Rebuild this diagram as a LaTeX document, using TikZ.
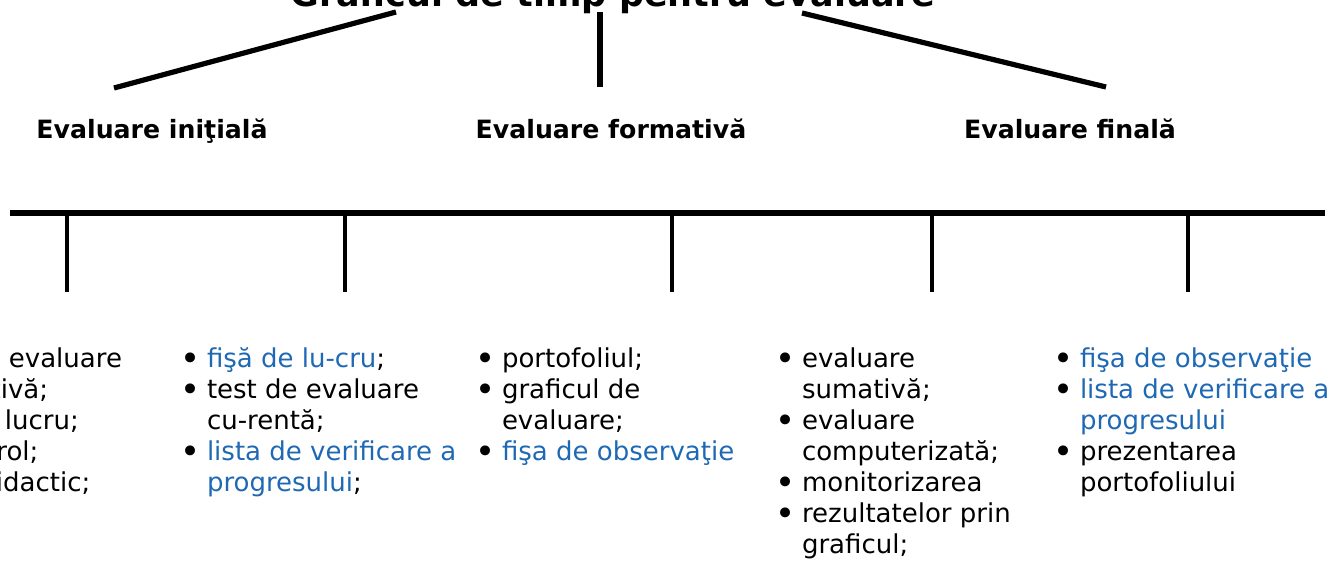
\documentclass[tikz,border=0pt]{standalone}
\usepackage{fontspec}
\setmainfont{DejaVu Sans}
\usepackage{xcolor}
\usetikzlibrary{positioning}
\definecolor{linkblue}{HTML}{1F69B4}
\newcommand{\Blu}[1]{\textcolor{linkblue}{#1}}
\newcommand{\itm}{\makebox[12.3pt][l]{\hspace*{-0.8pt}\raisebox{-1.6pt}{\fontsize{17pt}{15.5pt}\selectfont •}}}
\newcommand{\cnt}{\hspace*{12.3pt}}
\tikzset{
  titletext/.style={font=\bfseries\fontsize{17.5pt}{21pt}\selectfont,anchor=base,inner sep=0pt},
  heading/.style={font=\bfseries\fontsize{12.6pt}{15pt}\selectfont,anchor=base,inner sep=0pt},
  itemlist/.style={font=\fontsize{13pt}{15.5pt}\selectfont,anchor=base west,inner sep=0pt},
  branch/.style={line width=2.6pt},
  tickline/.style={line width=1.8pt}
}

\begin{document}
\begin{tikzpicture}[x=0.5pt,y=-0.5pt]
\path[use as bounding box,clip] (0,0) rectangle (1331,561);
% \draw[help lines] (0,0) grid (1331,561);
\node (title) [titletext] at (613,7) {Graficul de timp pentru evaluare};
%
\coordinate (b1-top) at (396,12);
\coordinate (b1-bot) at (114,88);
\coordinate (b2-top) at (600,12);
\coordinate (b2-bot) at (600,87);
\coordinate (b3-top) at (802,13);
\coordinate (b3-bot) at (1106,87);
\draw[branch] (b1-top) -- (b1-bot);
\draw[branch] (b2-top) -- (b2-bot);
\draw[branch] (b3-top) -- (b3-bot);
%
\node (initiala) [heading] at (152,139) {Evaluare iniţială};
\node (formativa) [heading] at (611,139) {Evaluare formativă};
\node (finala) [heading] at (1070,139) {Evaluare finală};
%
\coordinate (line-w) at (10,213);
\coordinate (line-e) at (1325,213);
\draw[line width=3pt] (line-w) -- (line-e);
%
\coordinate (k1-top) at (67,213);   \coordinate (k1-bot) at (67,292);
\coordinate (k2-top) at (345,213);  \coordinate (k2-bot) at (345,292);
\coordinate (k3-top) at (672,213);  \coordinate (k3-bot) at (672,292);
\coordinate (k4-top) at (932,213);  \coordinate (k4-bot) at (932,292);
\coordinate (k5-top) at (1188,213); \coordinate (k5-bot) at (1188,292);
\draw[tickline] (k1-top) -- (k1-bot);
\draw[tickline] (k2-top) -- (k2-bot);
\draw[tickline] (k3-top) -- (k3-bot);
\draw[tickline] (k4-top) -- (k4-bot);
\draw[tickline] (k5-top) -- (k5-bot);
%
\node (list1) [itemlist] at (-115,367) {\begin{tabular}[t]{@{}l@{}}
\itm test de evaluare\\
\cnt predictivă;\\
\itm fişă de lucru;\\
\itm joc de rol;\\
\itm jocul didactic;
\end{tabular}};
\node (list2) [itemlist] at (182,367) {\begin{tabular}[t]{@{}l@{}}
\itm \Blu{fişă de lu-cru};\\
\itm test de evaluare\\
\cnt cu-rentă;\\
\itm \Blu{lista de verificare a}\\
\cnt \Blu{progresului};
\end{tabular}};
\node (list3) [itemlist] at (477,367) {\begin{tabular}[t]{@{}l@{}}
\itm portofoliul;\\
\itm graficul de\\
\cnt evaluare;\\
\itm \Blu{fişa de observaţie}
\end{tabular}};
\node (list4) [itemlist] at (777,367) {\begin{tabular}[t]{@{}l@{}}
\itm evaluare\\
\cnt sumativă;\\
\itm evaluare\\
\cnt computerizată;\\
\itm monitorizarea\\
\itm rezultatelor prin\\
\cnt graficul;
\end{tabular}};
\node (list5) [itemlist] at (1055,367) {\begin{tabular}[t]{@{}l@{}}
\itm \Blu{fişa de observaţie}\\
\itm \Blu{lista de verificare a}\\
\cnt \Blu{progresului}\\
\itm prezentarea\\
\cnt portofoliului
\end{tabular}};
\end{tikzpicture}
\end{document}
